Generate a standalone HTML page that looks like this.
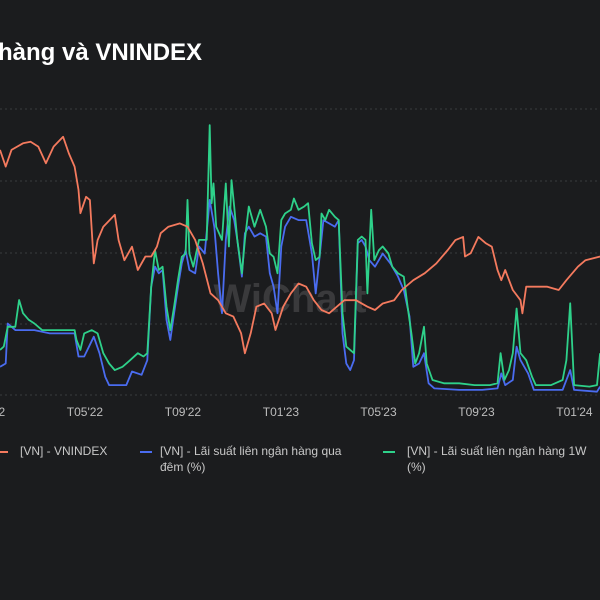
<!DOCTYPE html>
<html><head><meta charset="utf-8">
<style>
html,body{margin:0;padding:0;background:#1b1c1e;}
body{width:600px;height:600px;overflow:hidden;position:relative;font-family:"Liberation Sans","Noto Sans CJK SC",sans-serif;}
#title{position:absolute;left:-2px;top:39px;color:#fff;font-size:24px;font-weight:bold;white-space:nowrap;}
.leg{position:absolute;color:#c8c8c8;font-size:12px;line-height:16px;}
.sw{position:absolute;height:2px;}
</style></head><body>
<div id="title">hàng và VNINDEX</div>
<svg id="chart" width="600" height="430" style="position:absolute;left:0;top:0"></svg>
<div class="sw" style="left:0;top:451px;width:8px;background:#f47a5e"></div>
<div class="leg" style="left:20px;top:443px">[VN] - VNINDEX</div>
<div class="sw" style="left:140px;top:451px;width:12px;background:#4a6cf0"></div>
<div class="leg" style="left:160px;top:443px">[VN] - Lãi suất liên ngân hàng qua<br>đêm (%)</div>
<div class="sw" style="left:383px;top:451px;width:12px;background:#2ed18a"></div>
<div class="leg" style="left:407px;top:443px">[VN] - Lãi suất liên ngân hàng 1W<br>(%)</div>
<script>
const xTickLabels=["T01'22","T05'22","T09'22","T01'23","T05'23","T09'23","T01'24"];
const xTickTimes=[-3.4,22.2,47.8,73.4,98.9,124.5,150.1];
const vnTime=[0,1.5,3,6,8,10,12,14,16.5,18,19.5,20.5,21,22.5,23.5,24.5,25.5,27,30,31,32.5,34.5,36,38,39.5,41,42,44,47,49,51,53,55,57,59,61,63,64,65.5,67,69,71,72,74,76,78,80,82,84,86,88,90,93,96,98,100,103,105,108,111,114,117,119,121,121.5,123,125,127,128.5,130,131,132,134,136,136.5,137.5,140,143,146,148,151,153,156.8];
const vnValues=[1450,1409,1450,1466,1470,1458,1417,1458,1482,1441,1409,1352,1295,1335,1327,1172,1229,1262,1291,1229,1180,1213,1156,1189,1189,1213,1246,1262,1270,1262,1229,1172,1099,1082,1050,1042,1001,952,1001,1066,1074,1050,1009,1066,1099,1123,1115,1082,1058,1050,1066,1082,1082,1066,1058,1074,1082,1107,1131,1148,1172,1205,1229,1237,1189,1197,1237,1221,1213,1156,1131,1156,1107,1082,1050,1115,1115,1115,1107,1131,1164,1180,1189];
const gTime=[0,1,2,4,5,6,7.5,9,11,13,15,17,19.5,20,21,22,24,25.5,27,28.5,30,32,34,36,37.5,38.5,39.5,40.5,41.5,42.5,43.5,44.5,45.5,46.5,47.5,48.5,49,49.5,50.5,52,54,54.8,55.3,55.8,56.5,58,59,59.8,60.5,61.2,62,63.2,64,65,66.5,68,69.5,70.5,71.5,72.5,73.5,74.5,76,76.8,78,79.5,80.5,81.5,82.5,83.5,84,85,86,87.5,88.5,89.5,90.5,91.5,92.5,93.5,94.5,95.5,96,97,97.8,99,100,101.5,102.5,104,105.5,106.5,107.5,108.5,109.5,110.8,111.5,113,116,120,124,128,130,130.8,131.8,133,134,135,136,137.5,139,140,144,147,148,149,150,154,156,156.8];
const gValues=[1.23,1.32,1.86,1.86,2.59,2.23,2.05,1.95,1.77,1.77,1.77,1.77,1.77,1.5,1.23,1.68,1.77,1.68,1.14,0.86,0.68,0.77,0.95,1.14,1.05,1.14,2.95,3.95,3.41,3.5,2.41,1.77,2.41,3.14,3.77,3.86,5.32,3.86,3.5,4.23,4.23,7.36,5.23,5.77,4.59,4.23,5.77,4.05,5.86,5.14,4.23,3.32,4.23,5.14,4.59,5.05,4.59,3.86,3.77,3.32,4.77,4.95,5.05,5.36,5.05,5.14,5.23,4.14,3.68,3.77,4.95,4.77,5.05,4.86,4.77,2.23,1.32,1.23,1.14,4.23,4.32,4.23,2.77,5.05,3.68,3.95,4.05,3.86,3.5,3.32,3.23,2.41,1.68,0.86,1.14,1.86,0.86,0.41,0.32,0.32,0.27,0.27,0.32,1.14,0.41,0.68,1.14,2.36,1.14,0.95,0.5,0.27,0.27,0.41,0.95,2.5,0.27,0.23,0.27,1.14];
const bTime=[0,1.5,2,4,6,9,13,17,19.5,20.5,22,24.5,26,27.5,28.5,33,34.5,37,38.5,39.5,40.5,41.5,42.5,43.5,44.5,45.5,46.5,47.5,48.5,49.5,51,52,53.5,54.8,56,57,58,59,60,61.2,62,63.2,64,65,66.5,68,69.5,70.5,71.5,72.5,73.5,74.5,76,78,80,81.5,82.5,83.5,84.5,86,87.5,88.5,89.5,90.5,91.5,92.5,93.5,94.5,95.5,96.5,98,100,102,104,105.5,107,108,109.5,110.8,112,113.5,120,126,130,131,132,134,135,136,138,139.5,147,149,150,156,156.8];
const bValues=[0.77,0.86,1.95,1.77,1.77,1.77,1.68,1.68,1.68,1.05,1.05,1.59,1.14,0.5,0.27,0.27,0.64,0.55,0.95,2.95,3.5,3.32,3.41,2.05,1.5,2.23,2.95,3.59,3.95,3.41,3.32,4.05,3.86,5.32,4.59,3.32,2.23,4.23,5.14,4.77,4.23,3.23,4.41,4.59,4.32,4.41,4.32,3.32,2.95,2.23,4.05,4.59,4.86,4.77,4.77,3.86,2.77,3.77,4.77,4.68,4.59,4.77,1.68,0.86,0.68,0.95,4.14,4.23,4.05,3.68,3.5,3.86,3.59,3.23,2.86,2.14,0.77,0.86,1.14,0.32,0.18,0.14,0.14,0.18,0.59,0.27,0.41,1.32,0.95,0.59,0.14,0.14,0.68,0.14,0.09,0.23];
const NS="http://www.w3.org/2000/svg";
const svg=document.getElementById('chart');
function xS(t){return t*10/2.613;}
function yVn(v){return 109+(1550-v)/2.4476;}
function yRate(r){return 395-r*36.667;}
[109,181,253,324,395].forEach(function(y,i){
  const l=document.createElementNS(NS,'line');
  l.setAttribute('x1',0);l.setAttribute('x2',600);l.setAttribute('y1',y);l.setAttribute('y2',y);
  l.setAttribute('stroke','#3a3b3e');l.setAttribute('stroke-dasharray','2,3');
  
  
  svg.appendChild(l);
});
const wm=document.createElementNS(NS,'text');
wm.setAttribute('x',290);wm.setAttribute('y',312);wm.setAttribute('text-anchor','middle');
wm.setAttribute('fill','#3a3a3c');wm.setAttribute('font-size','40');wm.setAttribute('font-weight','bold');
wm.setAttribute('font-family','Liberation Sans, sans-serif');wm.textContent='WiChart';


svg.appendChild(wm);
xTickLabels.forEach(function(lab,i){
  const t=document.createElementNS(NS,'text');
  t.setAttribute('x',xS(xTickTimes[i]));t.setAttribute('y',416);t.setAttribute('text-anchor','middle');
  t.setAttribute('fill','#bdbdbd');t.setAttribute('font-size','12');t.setAttribute('font-family','Liberation Sans, sans-serif');
  t.textContent=lab;
  
  
  svg.appendChild(t);
});
function line(ts,vs,yf,color,name){
  const p=document.createElementNS(NS,'path');
  p.setAttribute('d',ts.map(function(t,i){return (i?'L':'M')+xS(t).toFixed(1)+','+yf(vs[i]).toFixed(1);}).join(''));
  p.setAttribute('fill','none');p.setAttribute('stroke',color);p.setAttribute('stroke-width','1.8');p.setAttribute('stroke-linejoin','round');
  
  
  svg.appendChild(p);
}
line(bTime,bValues,yRate,'#4a6cf0','overnight-rate-line');
line(gTime,gValues,yRate,'#2ed18a','1w-rate-line');
line(vnTime,vnValues,yVn,'#f47a5e','vnindex-line');
</script>
</body></html>
